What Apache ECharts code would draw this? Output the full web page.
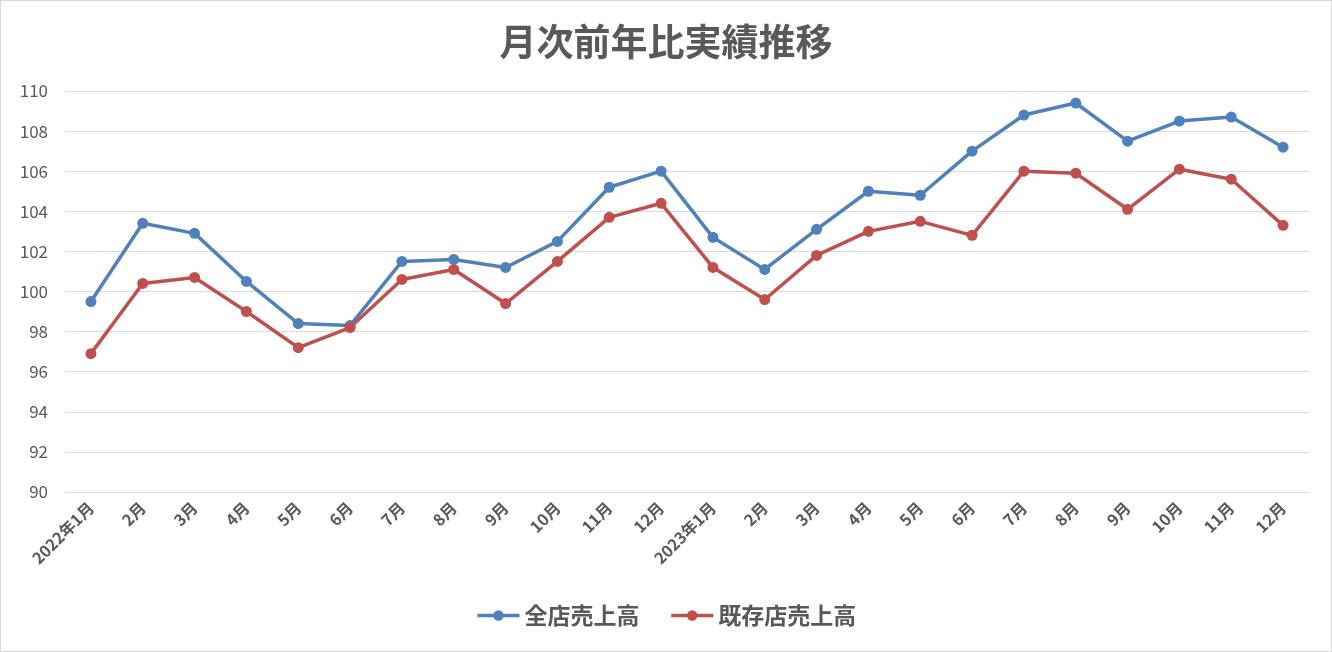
<!DOCTYPE html>
<html>
<head>
<meta charset="utf-8">
<script src="https://cdn.jsdelivr.net/npm/echarts@6/dist/echarts.min.js"></script>
<style>
html,body{margin:0;padding:0;background:#fff;}
#c{width:1330px;height:650px;border:1px solid #d9d9d9;}
</style>
</head>
<body>
<div id="c"></div>
<script>
const titleText = '月次前年比実績推移';
const categories = ['2022年1月','2月','3月','4月','5月','6月','7月','8月','9月','10月','11月','12月',
  '2023年1月','2月','3月','4月','5月','6月','7月','8月','9月','10月','11月','12月'];
const seriesNames = ['全店売上高','既存店売上高'];
const allStores = [99.5,103.4,102.9,100.5,98.4,98.3,101.5,101.6,101.2,102.5,105.2,106.0,
  102.7,101.1,103.1,105.0,104.8,107.0,108.8,109.4,107.5,108.5,108.7,107.2];
const existingStores = [96.9,100.4,100.7,99.0,97.2,98.2,100.6,101.1,99.4,101.5,103.7,104.4,
  101.2,99.6,101.8,103.0,103.5,102.8,106.0,105.9,104.1,106.1,105.6,103.3];
const yMin = 90, yMax = 110, yStep = 2;

const font = '"Noto Sans CJK JP", "Noto Sans", sans-serif';
const txt = '#595959';
const chart = echarts.init(document.getElementById('c'));
chart.setOption({
  animation: false,
  backgroundColor: '#fff',
  color: ['#4f81bd', '#c0504d'],
  title: {
    text: titleText, left: 'center', top: 17,
    textStyle: { fontFamily: font, fontSize: 37, fontWeight: 'bold', color: txt }
  },
  legend: {
    data: seriesNames, left: 'center', top: 598, itemWidth: 42, itemHeight: 13, itemGap: 30,
    lineStyle: { width: 3.5 },
    textStyle: { fontFamily: font, fontSize: 23, fontWeight: 'bold', color: txt }
  },
  grid: { left: 64, right: 22, top: 90, bottom: 159 },
  xAxis: {
    type: 'category', data: categories, boundaryGap: true,
    axisLine: { show: true, lineStyle: { color: '#d9d9d9' } },
    axisTick: { show: false },
    axisLabel: { rotate: 45, interval: 0, margin: 13, fontFamily: font, fontSize: 16, fontWeight: 'bold', color: txt }
  },
  yAxis: {
    type: 'value', min: yMin, max: yMax, interval: yStep,
    axisLine: { show: false }, axisTick: { show: false },
    axisLabel: { margin: 17, fontFamily: font, fontSize: 17, color: txt },
    splitLine: { lineStyle: { color: '#d9d9d9', width: 1 } }
  },
  series: [
    { name: seriesNames[0], type: 'line', data: allStores, symbol: 'circle', symbolSize: 11,
      lineStyle: { width: 3.5 }, itemStyle: { color: '#4f81bd' } },
    { name: seriesNames[1], type: 'line', data: existingStores, symbol: 'circle', symbolSize: 11,
      lineStyle: { width: 3.5 }, itemStyle: { color: '#c0504d' } }
  ]
});
</script>
</body>
</html>
